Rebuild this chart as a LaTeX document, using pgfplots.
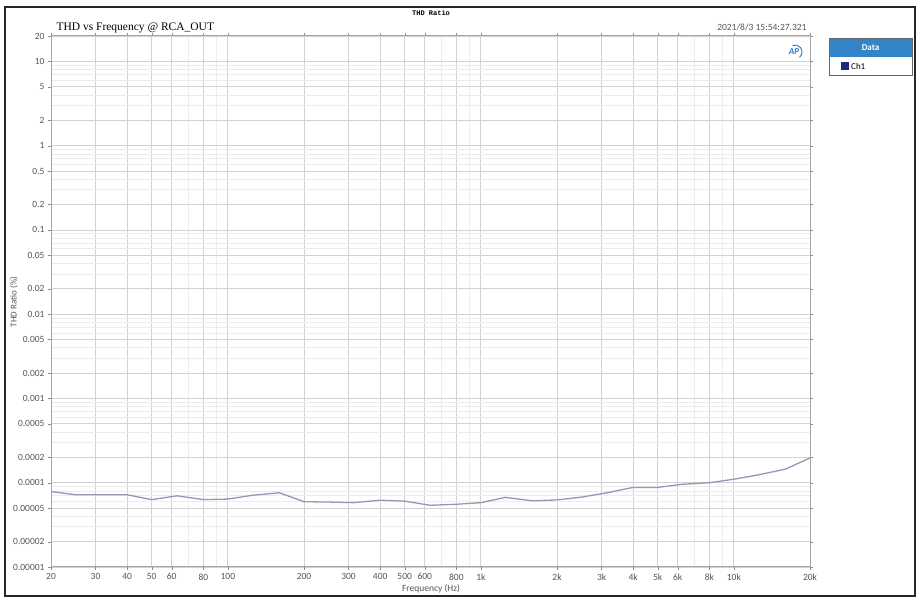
\documentclass[border=0pt]{standalone}
\usepackage{fontspec}
\setmainfont{Carlito}
\newfontfamily\serifft{Liberation Serif}
\newfontfamily\monoft{Liberation Mono}
\usepackage{pgfplots}
\pgfplotsset{compat=1.18}
\definecolor{chline}{RGB}{146,152,182}
\definecolor{chnavy}{RGB}{22,42,122}
\definecolor{hdrblue}{RGB}{52,132,200}
\definecolor{tickgray}{RGB}{85,85,85}
\definecolor{majgrid}{RGB}{210,210,210}
\definecolor{mingrid}{RGB}{236,236,236}
\definecolor{apblue}{RGB}{40,120,200}

\begin{document}
\begin{tikzpicture}[x=1pt,y=1pt]
\path[use as bounding box] (0,0) rectangle (922,604);
\draw[black!85, line width=1.1pt] (5,8) rectangle (915,597);

\begin{axis}[
    at={(51pt,37pt)}, anchor=south west,
    scale only axis, width=759pt, height=531pt,
    xmode=log, ymode=log,
    xmin=20, xmax=20000, ymin=1e-5, ymax=20,
    xtick={20,30,40,50,60,80,100,200,300,400,500,600,800,1000,2000,3000,4000,5000,6000,8000,10000,20000},
    xticklabels={20,30,40,50,60,80,100,200,300,400,500,600,800,1k,2k,3k,4k,5k,6k,8k,10k,20k},
    minor xtick={70,90,700,900,7000,9000},
    ytick={1e-5,2e-5,5e-5,1e-4,2e-4,5e-4,1e-3,2e-3,5e-3,0.01,0.02,0.05,0.1,0.2,0.5,1,2,5,10,20},
    yticklabels={0.00001,0.00002,0.00005,0.0001,0.0002,0.0005,0.001,0.002,0.005,0.01,0.02,0.05,0.1,0.2,0.5,1,2,5,10,20},
    minor ytick={3e-5,4e-5,6e-5,7e-5,8e-5,9e-5,
                 3e-4,4e-4,6e-4,7e-4,8e-4,9e-4,
                 3e-3,4e-3,6e-3,7e-3,8e-3,9e-3,
                 0.03,0.04,0.06,0.07,0.08,0.09,
                 0.3,0.4,0.6,0.7,0.8,0.9,
                 3,4,6,7,8,9},
    grid=both,
    major grid style={majgrid, line width=0.8pt},
    minor grid style={mingrid, line width=0.6pt},
    axis line style={black!35, line width=1pt},
    tick align=outside,
    major tick length=3pt, minor tick length=0pt,
    tick style={black!45},
    /pgf/number format/assume math mode=true,
    ticklabel style={font=\fontsize{9.5}{10}\selectfont, text=tickgray},
]
\addplot[chline, line width=1.3pt] coordinates {
    (20,7.86e-5) (25,7.2e-5) (31.5,7.2e-5) (40,7.2e-5) (50,6.3e-5)
    (63,7.0e-5) (80,6.3e-5) (100,6.4e-5) (125,7.1e-5) (160,7.6e-5)
    (200,5.95e-5) (250,5.9e-5) (315,5.8e-5) (400,6.2e-5) (500,6.05e-5)
    (630,5.4e-5) (800,5.55e-5) (1000,5.8e-5) (1250,6.7e-5) (1600,6.1e-5)
    (2000,6.25e-5) (2500,6.75e-5) (3150,7.6e-5) (4000,8.8e-5) (5000,8.8e-5)
    (6300,9.6e-5) (8000,1.0e-4) (10000,1.1e-4) (12500,1.24e-4) (16000,1.45e-4)
    (20000,1.97e-4)
};
\end{axis}

% titles and labels
\node[anchor=base west, font=\serifft\fontsize{11.5}{12}\selectfont] at (53,573) {THD vs Frequency @ RCA\_OUT};
\node[anchor=base east, font=\fontsize{9.5}{10}\selectfont, text=tickgray] at (810,573) {2021/8/3 15:54:27.321};
\node[font=\monoft\bfseries\fontsize{7}{8}\selectfont] at (431,591) {THD Ratio};
\node[rotate=90, font=\fontsize{9}{10}\selectfont, text=tickgray] at (14,302) {THD Ratio (\%)};
\node[font=\fontsize{9.5}{10}\selectfont, text=tickgray] at (431,15) {Frequency (Hz)};

% AP logo
\node[text=apblue, font=\bfseries\itshape\fontsize{9}{9}\selectfont] at (794,552) {AP};
\draw[apblue, line width=0.9pt] (795,552) ++(-50:7) arc (-50:110:7);

% legend box
\fill[hdrblue] (829,547) rectangle (912,566);
\draw[black!60, line width=0.8pt] (829,529) rectangle (912,566);
\node[text=white, font=\bfseries\fontsize{9}{10}\selectfont] at (870.5,556.5) {Data};
\fill[chnavy] (841,534) rectangle (849,542);
\node[anchor=west, font=\fontsize{9}{10}\selectfont, inner sep=0pt] at (851,538) {Ch1};
\end{tikzpicture}
\end{document}
